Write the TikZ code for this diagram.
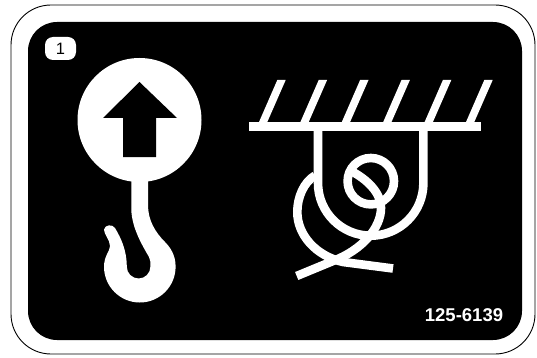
\documentclass[tikz,border=0pt]{standalone}
\usepackage{fontspec}
\usepackage{tikz}
\setmainfont{Liberation Sans}
\usetikzlibrary{calc}
\definecolor{DecalBlack}{RGB}{0,0,0}
\begin{document}
\begin{tikzpicture}[
        x=1pt,y=-1pt,
        plate/.style={draw=DecalBlack,fill=white,line width=0.9pt,rounded corners=40pt},
        panel/.style={fill=DecalBlack,rounded corners=29pt},
        hookw/.style={fill=white},
        rope/.style={draw=white,line width=8.6pt},
        badge/.style={fill=white,rounded corners=8pt,minimum width=31pt,minimum height=23pt,
                      inner sep=0pt,font=\fontsize{16.5}{16.5}\selectfont},
        partno/.style={text=white,font=\fontsize{18.5}{18.5}\selectfont\bfseries,inner sep=0pt}
      ]
        \useasboundingbox (0,0) rectangle (537,358);
        \draw[plate] (11,5) rectangle (535,354);
        \fill[panel] (28,22) rectangle (522,340);
        \node[badge] (num) at (60.5,48.5) {1};
        \node[partno] (code) at (464,315) {125-6139};
        \fill[hookw] (139.5,120) circle (62);
        \fill[DecalBlack] (139.5,82) -- (177,118) -- (156,118) -- (156,157)
          -- (123,157) -- (123,118) -- (103,118) -- cycle;
        \fill[hookw] (131.3,178) -- (131.3,210)
          .. controls (132,228) and (142,245) .. (149,257)
          .. controls (150.5,260) and (150.7,263) .. (150.4,266.7)
          arc (0:180:11.8)
          .. controls (126.7,250) and (121,238) .. (115,228)
          .. controls (112.5,224) and (105,224.5) .. (104,229.5)
          .. controls (103.8,234) and (110,240) .. (110,246)
          .. controls (110,251) and (104,256) .. (104,266.7)
          arc (180:0:35.8)
          .. controls (175.7,255) and (170,247) .. (165,242)
          .. controls (155,232) and (148,220) .. (148,205)
          -- (148,178) -- cycle;
        \foreach \hx in {259,300.4,341.8,383.2,424.6,466}
          \fill[white] (\hx,122) -- (\hx+8.3,122) -- (\hx+26.7,80) -- (\hx+18.3,80) -- cycle;
        \fill[white] (248.7,122) rectangle (481,130.7);
        \draw[rope] (318,128) -- (318,183) arc (180:0:52.7) -- (423.3,128);
        \draw[rope] (370.8,181.2) circle (23.2);
        \draw[rope] (315,175.5) .. controls (304,182) and (297.3,197) .. (297.3,212)
          .. controls (297.3,235) and (316,256) .. (343,262) -- (393,268.5);
        \draw[rope] (296.7,276) -- (333,261)
          .. controls (362,250) and (381,228) .. (381,208)
          .. controls (381,192) and (366,179) .. (352,171.5);
      \end{tikzpicture}
\end{document}
